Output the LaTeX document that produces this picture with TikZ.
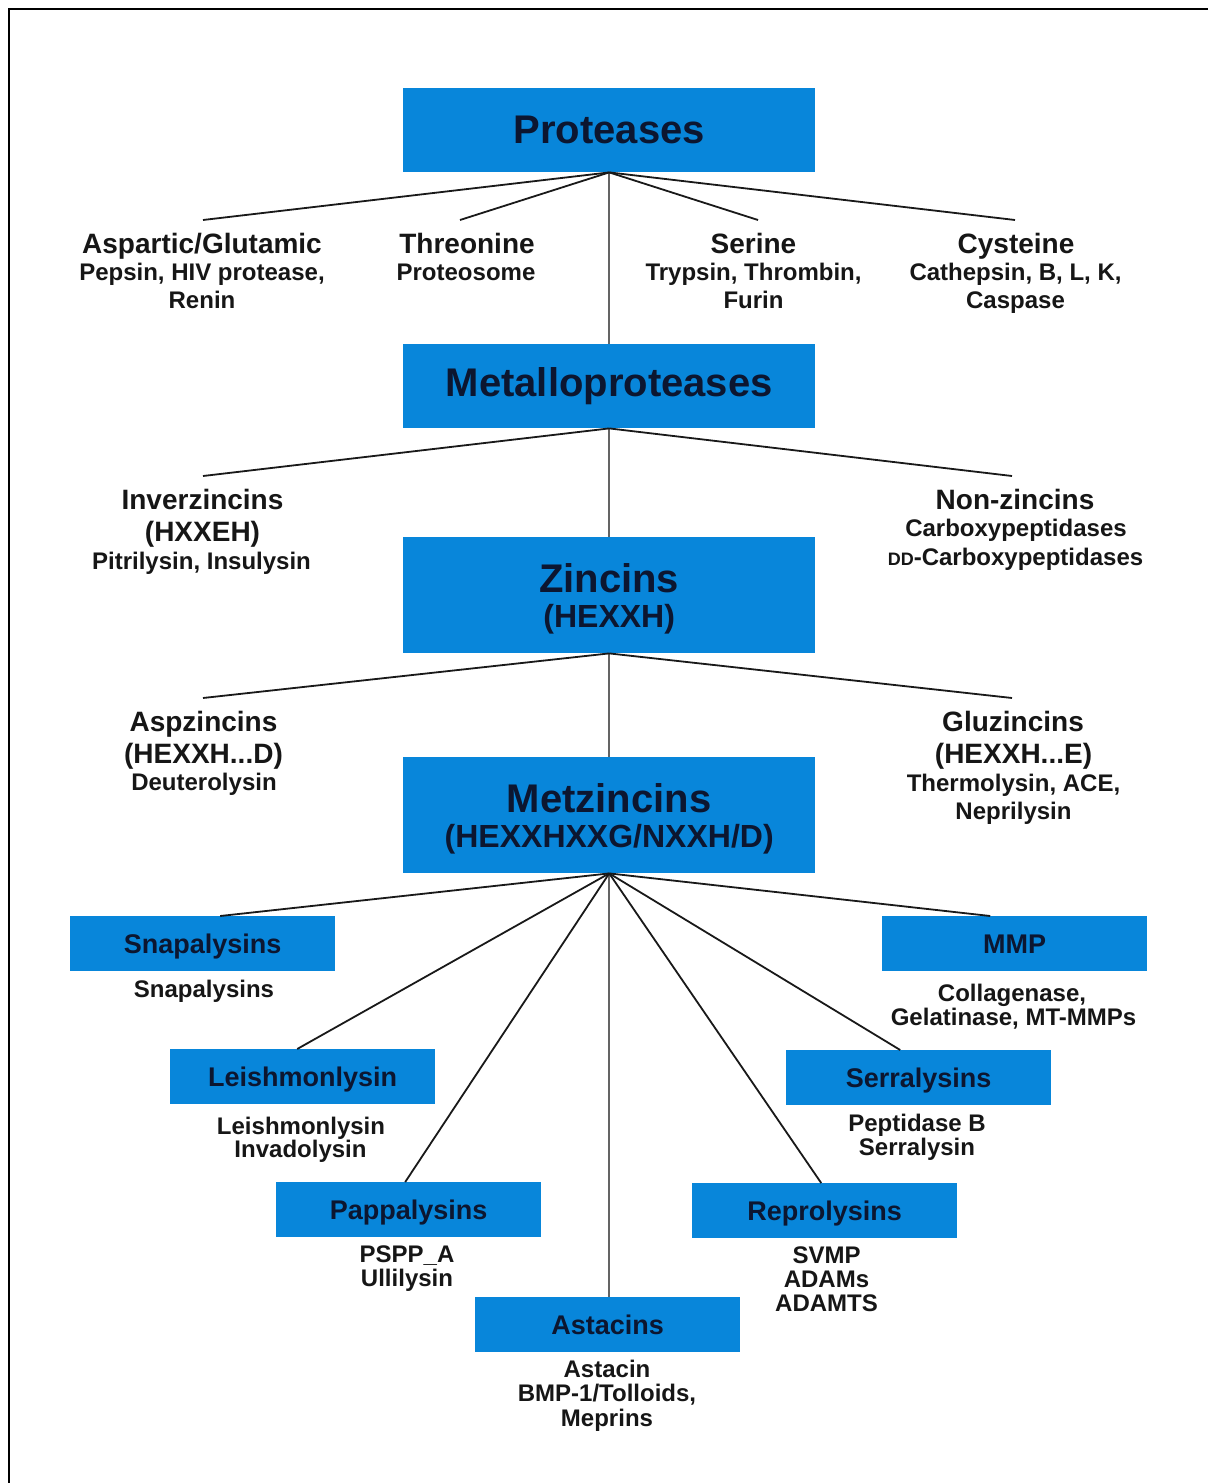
\documentclass[tikz,border=0pt]{standalone}
\usepackage{fontspec}
\setmainfont{Liberation Sans}
\definecolor{boxblue}{RGB}{8,134,218}
\definecolor{boxtext}{RGB}{12,22,48}
\definecolor{txt}{RGB}{22,22,22}
\definecolor{trunkc}{RGB}{100,100,100}
\begin{document}
\begin{tikzpicture}[x=1pt,y=-1pt,
  box/.style={fill=boxblue, text=boxtext, inner sep=0pt, anchor=north west},
  bigbox/.style={box, minimum width=412pt, minimum height=84pt, font=\bfseries\fontsize{40}{40}\selectfont},
  tallbox/.style={box, minimum width=412pt, minimum height=116pt, align=center, text depth=0pt, font=\bfseries\fontsize{32}{35}\selectfont},
  smallbox/.style={box, minimum width=265pt, minimum height=55pt, text depth=0pt, font=\bfseries\fontsize{27}{27}\selectfont},
  hd/.style={anchor=base, inner sep=0pt, text=txt, font=\bfseries\fontsize{28}{28}\selectfont},
  sb/.style={anchor=base, inner sep=0pt, text=txt, font=\bfseries\fontsize{24}{24}\selectfont},
  link/.style={draw=black!90, line width=1.8pt},
  trunk/.style={draw=trunkc, line width=2.2pt}]
\useasboundingbox (0,0) rectangle (1208,1483);
\fill[white] (0,0) rectangle (1208,1483);
% frame
\draw[line width=2pt] (9,1483) -- (9,9) -- (1208,9);

% main boxes
\node[bigbox] (pro) at (403,88) {Proteases};
\node[bigbox] (mp) at (403,344) {Metalloproteases};
\node[tallbox] (zn) at (403,537) {{\fontsize{40}{40}\selectfont Zincins}\\(HEXXH)};
\node[tallbox] (mz) at (403,757) {{\fontsize{40}{40}\selectfont Metzincins}\\(HEXXHXXG/NXXH/D)};

% small boxes
\node[smallbox] (snap) at (70,916) {Snapalysins};
\node[smallbox] (mmp) at (882,916) {MMP};
\node[smallbox] (leish) at (170,1049) {Leishmonlysin};
\node[smallbox] (serr) at (786,1050) {Serralysins};
\node[smallbox] (papp) at (276,1182) {Pappalysins};
\node[smallbox] (repro) at (692,1183) {Reprolysins};
\node[smallbox] (ast) at (475,1297) {Astacins};

% connector end points
\coordinate (aspT) at (203,220);
\coordinate (thrT) at (460,220);
\coordinate (serT) at (758,220);
\coordinate (cysT) at (1015,220);
\coordinate (invT) at (203,476);
\coordinate (nonT) at (1012,476);
\coordinate (aszT) at (203,698);
\coordinate (gluT) at (1012,698);

% trunk
\draw[trunk] (pro.south) -- (mp.north);
\draw[trunk] (mp.south) -- (zn.north);
\draw[trunk] (zn.south) -- (mz.north);
\draw[trunk] (mz.south) -- ([xshift=1.5pt]ast.north);

% branches
\draw[link] (pro.south) -- (aspT);
\draw[link] (pro.south) -- (thrT);
\draw[link] (pro.south) -- (serT);
\draw[link] (pro.south) -- (cysT);
\draw[link] (mp.south) -- (invT);
\draw[link] (mp.south) -- (nonT);
\draw[link] (zn.south) -- (aszT);
\draw[link] (zn.south) -- (gluT);
\draw[link] (mz.south) -- ([xshift=17.5pt]snap.north);
\draw[link] (mz.south) -- ([xshift=-24.5pt]mmp.north);
\draw[link] (mz.south) -- ([xshift=-5.5pt]leish.north);
\draw[link] (mz.south) -- ([xshift=-18.5pt]serr.north);
\draw[link] (mz.south) -- ([xshift=-3.5pt]papp.north);
\draw[link] (mz.south) -- ([xshift=-3.5pt]repro.north);

% level 1 labels
\node[hd] (asp1) at (202,253) {Aspartic/Glutamic};
\node[sb] (asp2) at (202,280.6) {Pepsin, HIV protease,};
\node[sb] (asp3) at (202,308.6) {Renin};
\node[hd] (thr1) at (467,253) {Threonine};
\node[sb] (thr2) at (466,280.6) {Proteosome};
\node[hd] (ser1) at (753.5,253) {Serine};
\node[sb] (ser2) at (753.5,280.6) {Trypsin, Thrombin,};
\node[sb] (ser3) at (753.5,308.6) {Furin};
\node[hd] (cys1) at (1016,253) {Cysteine};
\node[sb] (cys2) at (1015.5,280.6) {Cathepsin, B, L, K,};
\node[sb] (cys3) at (1015.5,308.6) {Caspase};

% level 2 labels
\node[hd] (inv1) at (202.5,509) {Inverzincins};
\node[hd] (inv2) at (202.5,541) {(HXXEH)};
\node[sb] (inv3) at (201.5,569.6) {Pitrilysin, Insulysin};
\node[hd] (non1) at (1015,509) {Non-zincins};
\node[sb] (non2) at (1016,536.6) {Carboxypeptidases};
\node[sb] (non3) at (1015.5,565.6) {{\fontsize{18}{18}\selectfont DD}-Carboxypeptidases};

% level 3 labels
\node[hd] (asz1) at (203.5,731) {Aspzincins};
\node[hd] (asz2) at (203.5,763) {(HEXXH...D)};
\node[sb] (asz3) at (204,790.6) {Deuterolysin};
\node[hd] (glu1) at (1013,731) {Gluzincins};
\node[hd] (glu2) at (1013.5,763) {(HEXXH...E)};
\node[sb] (glu3) at (1013.5,791.6) {Thermolysin, ACE,};
\node[sb] (glu4) at (1013.5,819.6) {Neprilysin};

% bottom labels
\node[sb] (snapL) at (204,997.6) {Snapalysins};
\node[sb] (mmp1) at (1012,1001.6) {Collagenase,};
\node[sb] (mmp2) at (1013.5,1025.6) {Gelatinase, MT-MMPs};
\node[sb] (leish1) at (301,1134.6) {Leishmonlysin};
\node[sb] (leish2) at (300.5,1157.6) {Invadolysin};
\node[sb] (serr1) at (917,1131.6) {Peptidase B};
\node[sb] (serr2) at (917,1155.6) {Serralysin};
\node[sb] (papp1) at (407,1262.6) {PSPP\_A};
\node[sb] (papp2) at (407,1286.6) {Ullilysin};
\node[sb] (repro1) at (826.5,1263.6) {SVMP};
\node[sb] (repro2) at (826.5,1287.6) {ADAMs};
\node[sb] (repro3) at (826.5,1311.6) {ADAMTS};
\node[sb] (ast1) at (607,1377.6) {Astacin};
\node[sb] (ast2) at (607,1401.6) {BMP-1/Tolloids,};
\node[sb] (ast3) at (607,1426) {Meprins};
\end{tikzpicture}
\end{document}
